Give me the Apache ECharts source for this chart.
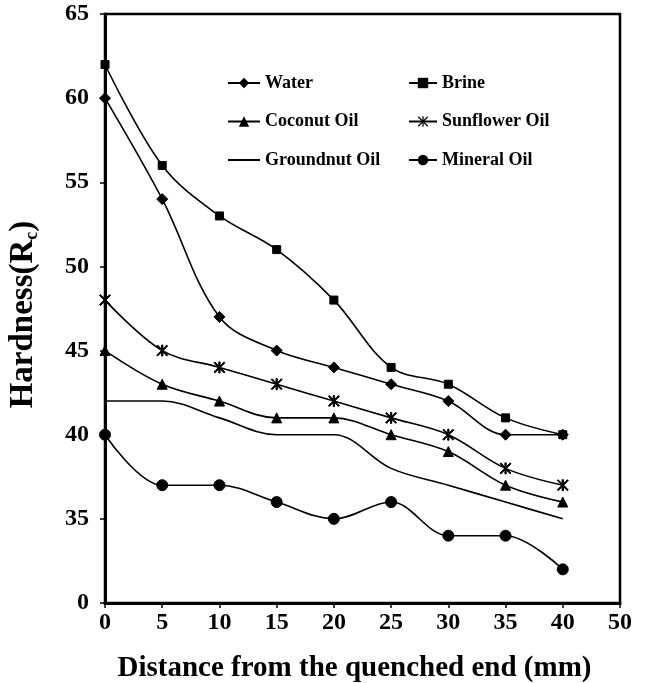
<!DOCTYPE html>
<html>
<head>
<meta charset="utf-8">
<script src="https://cdn.jsdelivr.net/npm/echarts@6/dist/echarts.min.js"></script>
<style>
html,body{margin:0;padding:0;background:#fff;}
#chart{width:649px;height:683px;}
</style>
</head>
<body>
<div id="chart"></div>
<script>
// Data
const xLabels = ['0','5','10','15','20','25','30','35','40','50'];
const water     = [60, 54, 47, 45, 44, 43, 42, 40, 40];
const brine     = [62, 56, 53, 51, 48, 44, 43, 41, 40];
const coconut   = [45, 43, 42, 41, 41, 40, 39, 37, 36];
const sunflower = [48, 45, 44, 43, 42, 41, 40, 38, 37];
const groundnut = [42, 42, 41, 40, 40, 38, 37, 36, 35];
const mineral   = [40, 37, 37, 36, 35, 36, 34, 34, 32];
const yMin = 30, yMax = 65, yStep = 5;

const FONT = '"Liberation Serif", "Times New Roman", serif';
const asterisk = 'path://M4.4 0L5.6 0L5.6 10L4.4 10Z M0 0.8L0.8 0L10 9.2L9.2 10Z M9.2 0L10 0.8L0.8 10L0 9.2Z';

function mk(name, data, symbol, size) {
  return {
    name: name, type: 'line', data: data,
    smooth: 0.35,
    symbol: symbol, symbolSize: size, showSymbol: symbol !== 'none',
    lineStyle: {color: '#000', width: 1.6},
    itemStyle: {color: '#000', borderColor: '#000'},
    z: 3
  };
}

const chart = echarts.init(document.getElementById('chart'), null, {renderer: 'canvas'});
const legendText = {fontFamily: FONT, fontWeight: 'bold', fontSize: 18, color: '#000', lineHeight: 18};
chart.setOption({
  animation: false,
  backgroundColor: '#fff',
  grid: {left: 105, right: 29, top: 14, bottom: 80, show: true, borderColor: '#000', borderWidth: 2.5,
         backgroundColor: 'transparent', containLabel: false, outerBoundsMode: 'none'},
  legend: [
    {data: ['Water', 'Coconut Oil', {name: 'Groundnut Oil', itemStyle: {opacity: 0}}], orient: 'vertical', left: 222, top: 69,
     itemWidth: 32, itemHeight: 13, itemGap: 20.5, textStyle: legendText},
    {data: ['Brine', 'Sunflower Oil', 'Mineral Oil'], orient: 'vertical', left: 403, top: 69,
     itemWidth: 28, itemHeight: 13, itemGap: 20.5, textStyle: legendText}
  ],
  xAxis: {
    type: 'category', data: xLabels, boundaryGap: false,
    name: 'Distance from the quenched end (mm)', nameLocation: 'middle', nameGap: 51,
    nameTextStyle: {fontFamily: FONT, fontWeight: 'bold', fontSize: 29, color: '#000', padding: [0, 16, 0, 0]},
    axisLine: {lineStyle: {color: '#000', width: 3}},
    axisTick: {show: true, length: 5, lineStyle: {color: '#000', width: 1.5}},
    axisLabel: {fontFamily: FONT, fontWeight: 'bold', fontSize: 24, color: '#000', margin: 8},
    splitLine: {show: false}
  },
  yAxis: {
    type: 'value', min: yMin, max: yMax, interval: yStep,
    name: '{a|Hardness(R}{b|c}{a|)}', nameLocation: 'middle', nameGap: 64, nameRotate: 90,
    nameTextStyle: {
      padding: [0, 12, 0, 0],
      rich: {
        a: {fontFamily: FONT, fontWeight: 'bold', fontSize: 33, color: '#000', lineHeight: 36},
        b: {fontFamily: FONT, fontWeight: 'bold', fontSize: 18, color: '#000', lineHeight: 36, verticalAlign: 'bottom', padding: [12, 0, 0, 0]}
      }
    },
    axisLine: {show: true, lineStyle: {color: '#000', width: 3}},
    axisTick: {show: true, length: 5, lineStyle: {color: '#000', width: 1.5}},
    axisLabel: {fontFamily: FONT, fontWeight: 'bold', fontSize: 24, color: '#000', margin: 16,
      formatter: function (v) { return v === yMin ? '0' : String(v); }},
    splitLine: {show: false}
  },
  series: [
    mk('Water', water, 'diamond', 11),
    mk('Brine', brine, 'rect', 8),
    mk('Coconut Oil', coconut, 'triangle', 10),
    mk('Sunflower Oil', sunflower, asterisk, 11),
    mk('Groundnut Oil', groundnut, 'none', 0),
    mk('Mineral Oil', mineral, 'circle', 11)
  ]
});
</script>
</body>
</html>
